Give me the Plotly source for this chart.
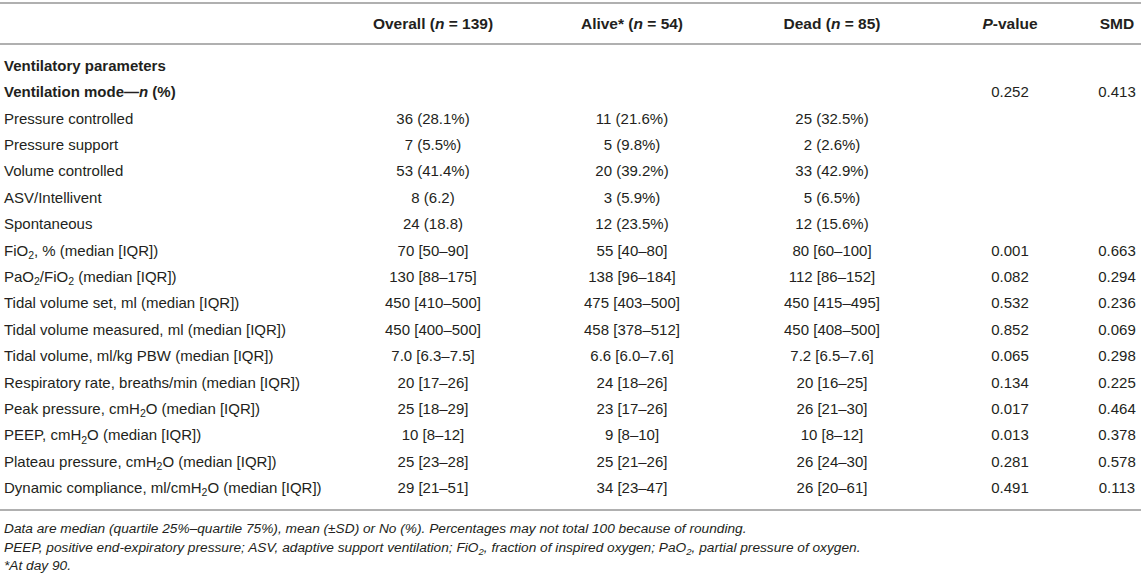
import plotly.graph_objects as go

# ---- data ----
headers = ["<b>Overall (<i>n</i> = 139)</b>", "<b>Alive* (<i>n</i> = 54)</b>",
           "<b>Dead (<i>n</i> = 85)</b>", "<b><i>P</i>-value</b>", "<b>SMD</b>"]

labels = [
    "<b>Ventilatory parameters</b>",
    "<b>Ventilation mode—<i>n</i> (%)</b>",
    "Pressure controlled",
    "Pressure support",
    "Volume controlled",
    "ASV/Intellivent",
    "Spontaneous",
    "FiO<sub>2</sub>, % (median [IQR])",
    "PaO<sub>2</sub>/FiO<sub>2</sub> (median [IQR])",
    "Tidal volume set, ml (median [IQR])",
    "Tidal volume measured, ml (median [IQR])",
    "Tidal volume, ml/kg PBW (median [IQR])",
    "Respiratory rate, breaths/min (median [IQR])",
    "Peak pressure, cmH<sub>2</sub>O (median [IQR])",
    "PEEP, cmH<sub>2</sub>O (median [IQR])",
    "Plateau pressure, cmH<sub>2</sub>O (median [IQR])",
    "Dynamic compliance, ml/cmH<sub>2</sub>O (median [IQR])",
]

overall = ["", "", "36 (28.1%)", "7 (5.5%)", "53 (41.4%)", "8 (6.2)", "24 (18.8)",
           "70 [50–90]", "130 [88–175]", "450 [410–500]", "450 [400–500]",
           "7.0 [6.3–7.5]", "20 [17–26]", "25 [18–29]", "10 [8–12]",
           "25 [23–28]", "29 [21–51]"]
alive = ["", "", "11 (21.6%)", "5 (9.8%)", "20 (39.2%)", "3 (5.9%)", "12 (23.5%)",
         "55 [40–80]", "138 [96–184]", "475 [403–500]", "458 [378–512]",
         "6.6 [6.0–7.6]", "24 [18–26]", "23 [17–26]", "9 [8–10]",
         "25 [21–26]", "34 [23–47]"]
dead = ["", "", "25 (32.5%)", "2 (2.6%)", "33 (42.9%)", "5 (6.5%)", "12 (15.6%)",
        "80 [60–100]", "112 [86–152]", "450 [415–495]", "450 [408–500]",
        "7.2 [6.5–7.6]", "20 [16–25]", "26 [21–30]", "10 [8–12]",
        "26 [24–30]", "26 [20–61]"]
pvalue = ["", "0.252", "", "", "", "", "",
          "0.001", "0.082", "0.532", "0.852", "0.065", "0.134", "0.017",
          "0.013", "0.281", "0.491"]
smd = ["", "0.413", "", "", "", "", "",
       "0.663", "0.294", "0.236", "0.069", "0.298", "0.225", "0.464",
       "0.378", "0.578", "0.113"]

footnotes = [
    "<i>Data are median (quartile 25%–quartile 75%), mean (±SD) or No (%). Percentages may not total 100 because of rounding.</i>",
    "<i>PEEP, positive end-expiratory pressure; ASV, adaptive support ventilation; FiO<sub>2</sub>, fraction of inspired oxygen; PaO<sub>2</sub>, partial pressure of oxygen.</i>",
    "<i>*At day 90.</i>",
]

# ---- layout ----
W, H = 1143, 577
FONT = "Liberation Sans, Arial, sans-serif"
COLOR = "#231f20"
FS = 15
label_x = 4
col_x = [433, 632, 832, 1010, 1117]
header_y = 25
row_y0, row_dy = 67, 26.4
row_y = [row_y0 + i * row_dy for i in range(len(labels))]
line_ys = [3, 44, 510]
foot_y = [530, 549, 567]

fig = go.Figure()


def text_trace(xs, ys, texts, pos, size):
    keep = [(x, y, t) for x, y, t in zip(xs, ys, texts) if t]
    fig.add_trace(go.Scatter(
        x=[k[0] for k in keep], y=[k[1] for k in keep], text=[k[2] for k in keep],
        mode="text", textposition=pos, cliponaxis=False,
        textfont=dict(family=FONT, size=size, color=COLOR), hoverinfo="skip"))


text_trace(col_x, [header_y] * len(headers), headers, "middle center", 15.5)
text_trace([label_x] * len(labels), row_y, labels, "middle right", FS)
for cx, col in zip(col_x, [overall, alive, dead, pvalue, smd]):
    text_trace([cx] * len(col), row_y, col, "middle center", FS)
text_trace([label_x] * len(footnotes), foot_y, footnotes, "middle right", 13.7)

for ly in line_ys:
    fig.add_shape(type="line", x0=0, x1=1141, y0=ly, y1=ly, xref="x", yref="y",
                  line=dict(color="#b0b0b0", width=2))

fig.update_layout(
    width=W, height=H, margin=dict(l=0, r=0, t=0, b=0),
    paper_bgcolor="white", plot_bgcolor="white", showlegend=False,
    xaxis=dict(range=[0, W], visible=False, fixedrange=True),
    yaxis=dict(range=[H, 0], visible=False, fixedrange=True),
)

fig.write_html("out.html", config={"displayModeBar": False},
               post_script="document.body.style.margin='0';document.body.style.overflow='hidden';")
